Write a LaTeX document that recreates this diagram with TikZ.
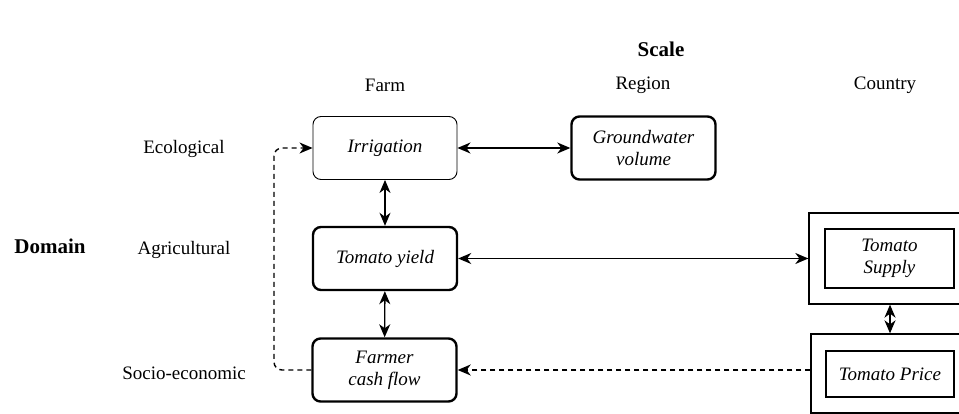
\documentclass[tikz,border=0pt]{standalone}
\usepackage{fontspec}
\setmainfont{Liberation Serif}
\usetikzlibrary{arrows.meta}

\begin{document}
\begin{tikzpicture}[x=1pt,y=-1pt,>={Stealth[length=13pt,width=11pt,inset=4pt]}]
        \useasboundingbox (0,0) rectangle (959,414);
        \clip (0,0) rectangle (959,414);

        % axis titles and row/column labels
        \begin{scope}[every node/.style={font=\fontsize{19}{22}\selectfont}]
          \node (scale)   at (661,49)  {\fontsize{21}{24}\selectfont\textbf{Scale}};
          \node (domain)  at (50,246)  {\fontsize{21}{24}\selectfont\textbf{Domain}};
          \node (farm)    at (385,85)  {Farm};
          \node (region)  at (643,85)  {Region};
          \node (country) at (885,85)  {Country};
          \node (ecol)    at (184,149) {Ecological};
          \node (agri)    at (184,250) {Agricultural};
          \node (socio)   at (184,373) {Socio-economic};
        \end{scope}

        % rounded boxes
        \begin{scope}[every node/.style={draw, rounded corners=8pt, line width=2.4pt,
            minimum width=144pt, minimum height=63pt, inner sep=0pt, align=center,
            font=\fontsize{19}{22}\selectfont\itshape}]
          \node[line width=0.9pt] (irrigation) at (385,148)   {Irrigation};
          \node (groundwater) at (643.5,148) {Groundwater\\volume};
          \node (yield)       at (385,258.5) {Tomato yield};
          \node (cashflow)    at (384.5,370) {Farmer\\cash flow};
        \end{scope}

        % framed boxes at country scale
        \begin{scope}[every node/.style={draw, line width=1.3pt, inner sep=0pt, align=center,
            font=\fontsize{19}{22}\selectfont\itshape}]
          \node[minimum width=166pt, minimum height=91pt] (supplyframe) at (892,258.5) {};
          \node[minimum width=164pt, minimum height=79pt] (priceframe)  at (893,373.5) {};
          \node[minimum width=129pt, minimum height=59pt] (supply) at (889.5,258.5) {Tomato\\Supply};
          \node[minimum width=128pt, minimum height=46pt] (price)  at (890,374)   {Tomato Price};
        \end{scope}

        \coordinate (loopcorner) at (274,148);

        % connectors
        \begin{scope}[line width=1.4pt]
          \draw[<->] (irrigation) -- (groundwater);
          \draw[<->] (irrigation) -- (yield);
          \draw[<->] (yield) -- (cashflow);
          \draw[<->] (yield) -- (supplyframe);
          \draw[<->] (supplyframe.south -| price) -- (priceframe.north -| price);
          \draw[->, dashed, dash pattern=on 5pt off 4pt] (priceframe.west |- cashflow.east) -- (cashflow.east);
          \draw[->, dashed, dash pattern=on 5pt off 4pt, rounded corners=8pt]
            (cashflow.west) -| (loopcorner) -- (irrigation.west);
        \end{scope}

      \end{tikzpicture}
\end{document}
